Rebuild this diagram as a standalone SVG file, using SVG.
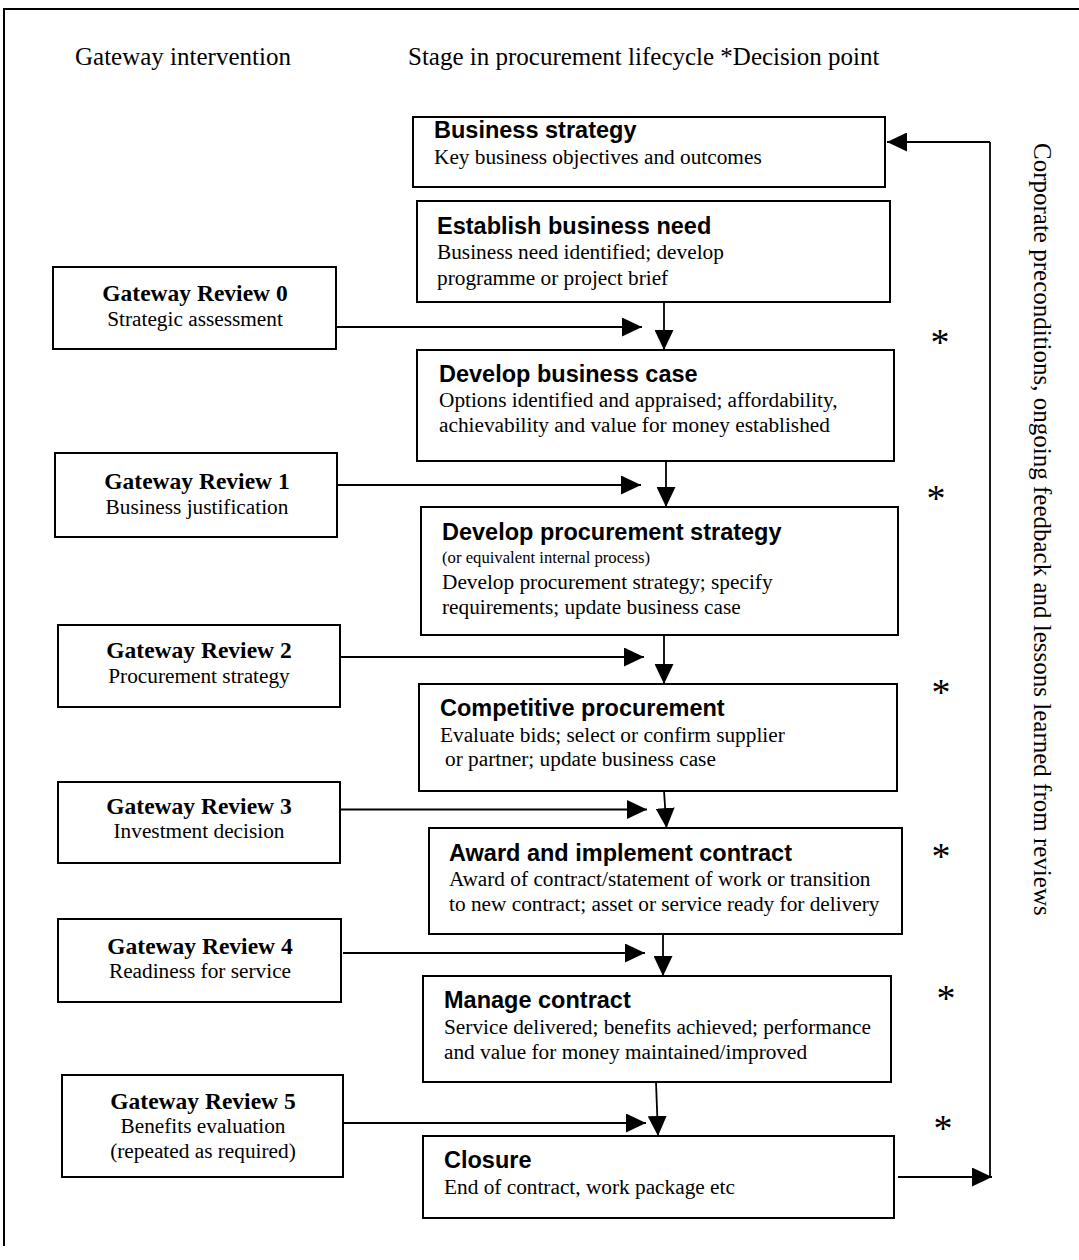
<svg xmlns="http://www.w3.org/2000/svg" width="1079" height="1260" viewBox="0 0 1079 1260">
<style>
  .box { fill: #fff; stroke: #000; stroke-width: 2; }
  .frame { fill: none; stroke: #000; stroke-width: 2; }
  .ln { fill: none; stroke: #000; stroke-width: 1.8; }
  .arr { fill: none; stroke: #000; stroke-width: 1.8; marker-end: url(#ah); }
  .t { font-family: "Liberation Serif", "Times New Roman", serif; font-size: 21.3px; fill: #000; }
  .ts { font-family: "Liberation Serif", "Times New Roman", serif; font-size: 16.7px; fill: #000; }
  .hd { font-family: "Liberation Serif", "Times New Roman", serif; font-size: 25px; fill: #000; }
  .tb { font-family: "Liberation Serif", "Times New Roman", serif; font-size: 23.5px; font-weight: bold; fill: #000; text-anchor: middle; }
  .tc { font-family: "Liberation Serif", "Times New Roman", serif; font-size: 21.3px; fill: #000; text-anchor: middle; }
  .h { font-family: "Liberation Sans", Arial, sans-serif; font-size: 23.5px; font-weight: bold; fill: #000; }
  .ast { font-family: "Liberation Serif", "Times New Roman", serif; font-size: 38px; fill: #000; text-anchor: middle; }
</style>
<defs>
  <marker id="ah" viewBox="0 0 20 19" refX="20" refY="9.5" markerWidth="20" markerHeight="19" markerUnits="userSpaceOnUse" orient="auto">
    <path d="M0,0 L20,9.5 L0,19 Z" fill="#000"/>
  </marker>
</defs>
<rect width="1079" height="1260" fill="#fff"/>
<path class="frame" d="M4,1246 V9 H1079"/>

<g id="headers">
  <text class="hd" x="75" y="65">Gateway intervention</text>
  <text class="hd" x="408" y="65">Stage in procurement lifecycle *Decision point</text>
</g>

<g id="stage-business-strategy">
  <rect class="box" x="413" y="117" width="472" height="70"/>
  <text class="h" x="434" y="138">Business strategy</text>
  <text class="t" x="434" y="164">Key business objectives and outcomes</text>
</g>
<g id="stage-establish-need">
  <rect class="box" x="417" y="201" width="473" height="101"/>
  <text class="h" x="437" y="234">Establish business need</text>
  <text class="t" x="437" y="259">Business need identified; develop</text>
  <text class="t" x="437" y="285">programme or project brief</text>
</g>
<g id="stage-business-case">
  <rect class="box" x="417" y="350" width="477" height="111"/>
  <text class="h" x="439" y="382">Develop business case</text>
  <text class="t" x="439" y="407">Options identified and appraised; affordability,</text>
  <text class="t" x="439" y="432">achievability and value for money established</text>
</g>
<g id="stage-procurement-strategy">
  <rect class="box" x="421" y="507" width="477" height="128"/>
  <text class="h" x="442" y="540">Develop procurement strategy</text>
  <text class="ts" x="442" y="563">(or equivalent internal process)</text>
  <text class="t" x="442" y="589">Develop procurement strategy; specify</text>
  <text class="t" x="442" y="614">requirements; update business case</text>
</g>
<g id="stage-competitive-procurement">
  <rect class="box" x="419" y="684" width="478" height="107"/>
  <text class="h" x="440" y="716">Competitive procurement</text>
  <text class="t" x="440" y="742">Evaluate bids; select or confirm supplier</text>
  <text class="t" x="445" y="766">or partner; update business case</text>
</g>
<g id="stage-award-contract">
  <rect class="box" x="429" y="828" width="473" height="106"/>
  <text class="h" x="449" y="861">Award and implement contract</text>
  <text class="t" x="449" y="886">Award of contract/statement of work or transition</text>
  <text class="t" x="449" y="911">to new contract; asset or service ready for delivery</text>
</g>
<g id="stage-manage-contract">
  <rect class="box" x="423" y="976" width="468" height="106"/>
  <text class="h" x="444" y="1008">Manage contract</text>
  <text class="t" x="444" y="1034">Service delivered; benefits achieved; performance</text>
  <text class="t" x="444" y="1059">and value for money maintained/improved</text>
</g>
<g id="stage-closure">
  <rect class="box" x="423" y="1136" width="471" height="82"/>
  <text class="h" x="444" y="1168">Closure</text>
  <text class="t" x="444" y="1194">End of contract, work package etc</text>
</g>

<g id="gateway-review-0">
  <rect class="box" x="53" y="267" width="283" height="82"/>
  <text class="tb" x="195" y="301">Gateway Review 0</text>
  <text class="tc" x="195" y="326">Strategic assessment</text>
</g>
<g id="gateway-review-1">
  <rect class="box" x="55" y="453" width="282" height="84"/>
  <text class="tb" x="197" y="489">Gateway Review 1</text>
  <text class="tc" x="197" y="514">Business justification</text>
</g>
<g id="gateway-review-2">
  <rect class="box" x="58" y="625" width="282" height="82"/>
  <text class="tb" x="199" y="658">Gateway Review 2</text>
  <text class="tc" x="199" y="683">Procurement strategy</text>
</g>
<g id="gateway-review-3">
  <rect class="box" x="58" y="782" width="282" height="81"/>
  <text class="tb" x="199" y="814">Gateway Review 3</text>
  <text class="tc" x="199" y="838">Investment decision</text>
</g>
<g id="gateway-review-4">
  <rect class="box" x="58" y="919" width="283" height="83"/>
  <text class="tb" x="200" y="954">Gateway Review 4</text>
  <text class="tc" x="200" y="978">Readiness for service</text>
</g>
<g id="gateway-review-5">
  <rect class="box" x="62" y="1075" width="281" height="102"/>
  <text class="tb" x="203" y="1109">Gateway Review 5</text>
  <text class="tc" x="203" y="1133">Benefits evaluation</text>
  <text class="tc" x="203" y="1158">(repeated as required)</text>
</g>

<g id="decision-points">
  <text class="ast" x="940" y="355">*</text>
  <text class="ast" x="936" y="511">*</text>
  <text class="ast" x="941" y="705">*</text>
  <text class="ast" x="941" y="869">*</text>
  <text class="ast" x="946" y="1011">*</text>
  <text class="ast" x="943" y="1141">*</text>
</g>

<g id="feedback-label">
  <text class="hd" transform="translate(1034,143) rotate(90)">Corporate preconditions, ongoing feedback and lessons learned from reviews</text>
</g>

<g id="connectors">
  <line class="arr" x1="664" y1="302" x2="664" y2="350"/>
  <line class="arr" x1="666" y1="461" x2="666" y2="507"/>
  <line class="arr" x1="664" y1="635" x2="664" y2="684"/>
  <line class="arr" x1="664" y1="791" x2="666.5" y2="828"/>
  <line class="arr" x1="663" y1="934" x2="663" y2="976"/>
  <line class="arr" x1="656" y1="1082" x2="658" y2="1136"/>

  <line class="arr" x1="336" y1="327" x2="642" y2="327"/>
  <line class="arr" x1="337" y1="485" x2="641" y2="485"/>
  <line class="arr" x1="340" y1="657" x2="644" y2="657"/>
  <line class="arr" x1="340" y1="809.5" x2="647" y2="809.5"/>
  <line class="arr" x1="343" y1="953" x2="645" y2="953"/>
  <line class="arr" x1="343" y1="1123" x2="646" y2="1123"/>

  <line class="arr" x1="898" y1="1177" x2="992" y2="1177"/>
  <line class="ln" x1="990" y1="1178" x2="990" y2="142"/>
  <line class="arr" x1="990" y1="142" x2="887" y2="142"/>
</g>
</svg>
